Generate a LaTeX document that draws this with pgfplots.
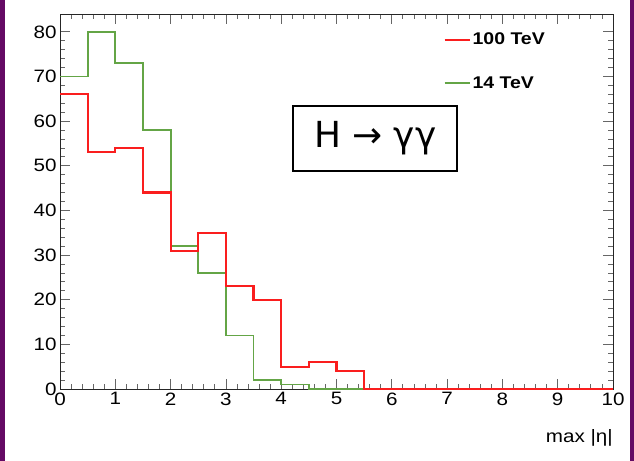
\documentclass[border=0pt]{standalone}
\usepackage{fontspec}
\setmainfont{Liberation Sans}[FakeStretch=1.15]
\newfontfamily\boxfont{DejaVu Sans}
\usepackage{pgfplots}
\pgfplotsset{compat=1.18}
\definecolor{rootred}{RGB}{250,30,30}
\definecolor{rootgreen}{RGB}{100,165,70}
\definecolor{slidepurple}{RGB}{100,10,100}
\begin{document}
\begin{tikzpicture}
\fill[white] (0bp,0bp) rectangle (634bp,461bp);
\fill[slidepurple] (0bp,0bp) rectangle (5bp,461bp);
\fill[slidepurple] (630bp,0bp) rectangle (634bp,461bp);
\begin{axis}[
  at={(60bp,72bp)}, anchor=south west,
  scale only axis, width=553bp, height=375bp,
  xmin=0, xmax=10, ymin=0, ymax=84,
  xtick={0,1,...,10}, ytick={0,10,...,80},
  minor x tick num=4, minor y tick num=4,
  tick align=inside,
  major tick length=10bp, minor tick length=5bp,
  every tick/.style={black!60, line width=0.8bp},
  axis line style={black!85, line width=0.8bp},
  ticklabel style={font=\fontsize{18}{18}\selectfont},
  /pgf/number format/assume math mode=true,
  clip=false,
  xlabel={max |η|},
  xlabel style={at={(axis description cs:1,0)}, anchor=north east, yshift=-40bp, font=\fontsize{18}{18}\selectfont, inner sep=0pt},
  legend style={at={(axis cs:6.93,73.4)}, anchor=west, draw=none, fill=none, font=\bfseries\fontsize{17}{17}\selectfont, row sep=26bp, inner sep=0pt},
  legend cell align=left,
  reverse legend,
  legend image code/.code={\draw[#1] (0bp,0bp) -- (25bp,0bp);},
]
\addplot[const plot, rootgreen, line width=1.8bp] coordinates {
 (0,70) (0.5,80) (1,73) (1.5,58) (2,32) (2.5,26) (3,12) (3.5,2) (4,1) (4.5,0) (10,0)};
\addlegendentry{14 TeV}
\addplot[const plot, rootred, line width=2.2bp] coordinates {
 (0,66) (0.5,53) (1,54) (1.5,44) (2,31) (2.5,35) (3,23) (3.5,20) (4,5) (4.5,6) (5,4) (5.5,0) (10,0)};
\addlegendentry{100 TeV}
\node[draw=black, line width=1.5bp, minimum width=164bp, minimum height=65bp, font=\boxfont\fontsize{36}{36}\selectfont] at (axis cs:5.70,56.1) {H → γγ};
\end{axis}
\end{tikzpicture}
\end{document}
